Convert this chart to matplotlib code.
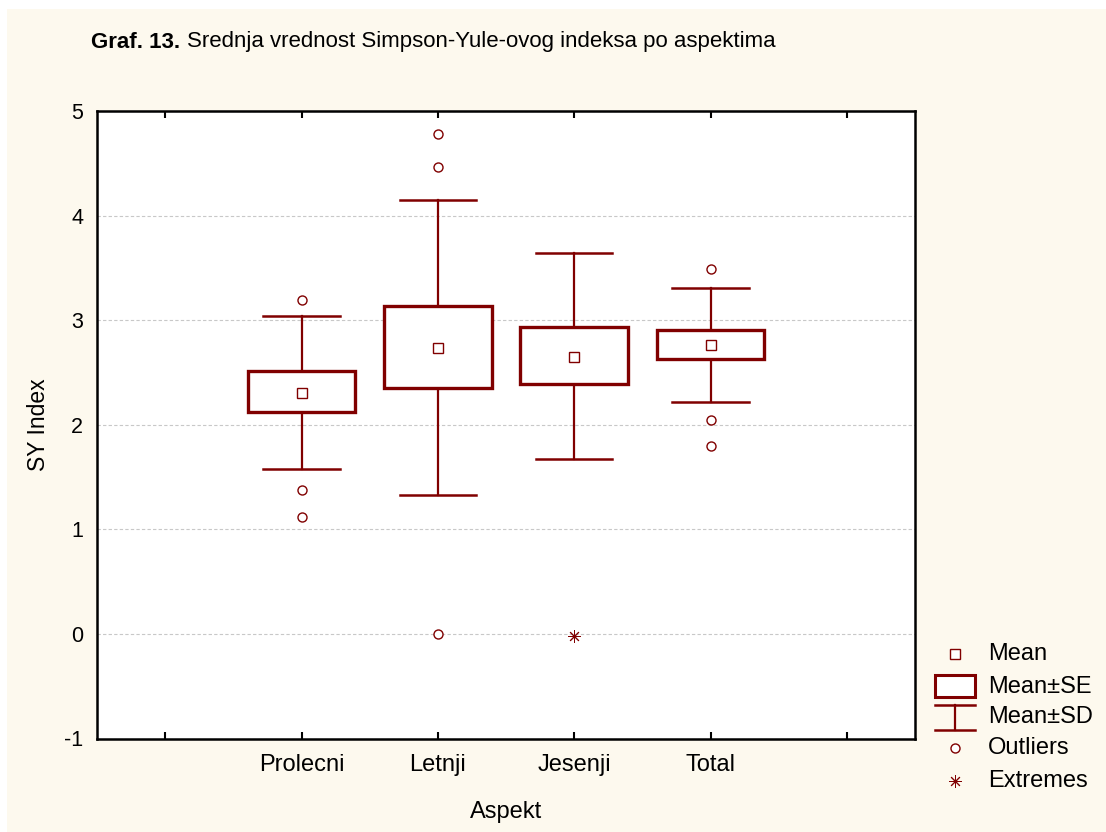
import numpy as np
import matplotlib
matplotlib.use('Agg')
from matplotlib import pyplot as plt
from matplotlib.patches import Rectangle
from matplotlib.lines import Line2D

plt.rcParams['font.family'] = ['Liberation Sans', 'DejaVu Sans']
plt.rcParams['axes.unicode_minus'] = False

# data
groups = ['Prolecni', 'Letnji', 'Jesenji', 'Total']
means = [2.30, 2.73, 2.65, 2.76]
se_low = [2.12, 2.35, 2.39, 2.63]
se_high = [2.51, 3.14, 2.93, 2.91]
sd_low = [1.58, 1.33, 1.67, 2.22]
sd_high = [3.04, 4.15, 3.64, 3.31]
outliers = [[3.19, 1.38, 1.12], [4.78, 4.46, 0.0], [], [3.49, 2.05, 1.80]]
extremes = [[], [], [-0.02], []]

col = '#800000'
bg = '#fdf9ee'

fig = plt.figure(figsize=(11.06, 8.32), dpi=100)
fig.patch.set_facecolor('white')
fig.patches.append(Rectangle((7/1106, 0), 1, 1 - 9/832, transform=fig.transFigure,
                             facecolor=bg, edgecolor='none', zorder=-10))

ax = fig.add_axes([97/1106, 1 - 738.5/832, 818/1106, 627.5/832])
ax.set_facecolor('white')

x = np.arange(len(groups))
box_w = 0.79
cap_w = 0.56
for i in x:
    # SD whiskers
    ax.plot([i, i], [sd_low[i], se_low[i]], color=col, lw=1.6, zorder=3)
    ax.plot([i, i], [se_high[i], sd_high[i]], color=col, lw=1.6, zorder=3)
    ax.plot([i - cap_w/2, i + cap_w/2], [sd_low[i], sd_low[i]], color=col, lw=1.8, zorder=3)
    ax.plot([i - cap_w/2, i + cap_w/2], [sd_high[i], sd_high[i]], color=col, lw=1.8, zorder=3)
    # SE box
    ax.add_patch(Rectangle((i - box_w/2, se_low[i]), box_w, se_high[i] - se_low[i],
                           facecolor='white', edgecolor=col, lw=2.4, zorder=4))
    # mean
    ax.plot(i, means[i], marker='s', ms=7, mfc='white', mec=col, mew=1.0, zorder=5)
    if outliers[i]:
        ax.plot([i]*len(outliers[i]), outliers[i], 'o', ms=6.5, mfc='white', mec=col, mew=1.0, zorder=5)
    if extremes[i]:
        ax.plot([i]*len(extremes[i]), extremes[i], marker=(8, 2, 0), ms=9, color=col,
                mew=0.7, ls='none', zorder=5)

ax.set_xlim(-1.5, 4.5)
ax.set_ylim(-1, 5)
ax.set_yticks(range(-1, 6))
ax.set_xticks(range(-1, 5))
ax.set_xticklabels([''] + groups + [''])
ax.yaxis.grid(True, color='#c8c8c8', ls=(0, (3, 2)), lw=0.8)
ax.set_axisbelow(True)
ax.tick_params(axis='x', direction='in', length=5, width=1.5, labelsize=17,
               top=True, pad=11)
ax.tick_params(axis='y', length=0, labelsize=15.5, pad=10)
for s in ax.spines.values():
    s.set_linewidth(1.8)
ax.set_xlabel('Aspekt', fontsize=17, labelpad=18)
ax.set_ylabel('SY Index', fontsize=16.5, labelpad=10)

# title: bold part then normal part right after it
fig.canvas.draw()
r = fig.canvas.get_renderer()
t1 = fig.text(91/1106, 1 - 42/832, 'Graf. 13.', fontsize=16, fontweight='bold', va='center')
bb = t1.get_window_extent(renderer=r)
fig.text((bb.x1 + 7)/1106, 1 - 42/832, 'Srednja vrednost Simpson-Yule-ovog indeksa po aspektima',
         fontsize=16, va='center')

# legend
lx = 955/1106
tx = 988/1106
rows = [654, 687, 717, 748, 781]
labels = ['Mean', 'Mean\u00b1SE', 'Mean\u00b1SD', 'Outliers', 'Extremes']
for yy, lab in zip(rows, labels):
    fig.text(tx, 1 - yy/832, lab, fontsize=17, va='center')
fy = lambda p: 1 - p/832
fig.add_artist(Line2D([lx], [fy(rows[0])], marker='s', ms=7, mfc='white', mec=col, mew=1.0,
                      transform=fig.transFigure))
fig.add_artist(Rectangle((935/1106, fy(697)), 40/1106, 22/832, facecolor='white',
                         edgecolor=col, lw=2.2, transform=fig.transFigure))
fig.add_artist(Line2D([935/1106, 975/1106], [fy(705), fy(705)], color=col, lw=1.8,
                      transform=fig.transFigure))
fig.add_artist(Line2D([935/1106, 975/1106], [fy(730), fy(730)], color=col, lw=1.8,
                      transform=fig.transFigure))
fig.add_artist(Line2D([lx, lx], [fy(705), fy(730)], color=col, lw=1.6,
                      transform=fig.transFigure))
fig.add_artist(Line2D([lx], [fy(rows[3])], marker='o', ms=6.5, mfc='white', mec=col, mew=1.0,
                      transform=fig.transFigure))
fig.add_artist(Line2D([lx], [fy(rows[4])], marker=(8, 2, 0), ms=9, color=col, mew=0.7,
                      transform=fig.transFigure))

plt.savefig('out.png', dpi=100, facecolor=fig.get_facecolor())
